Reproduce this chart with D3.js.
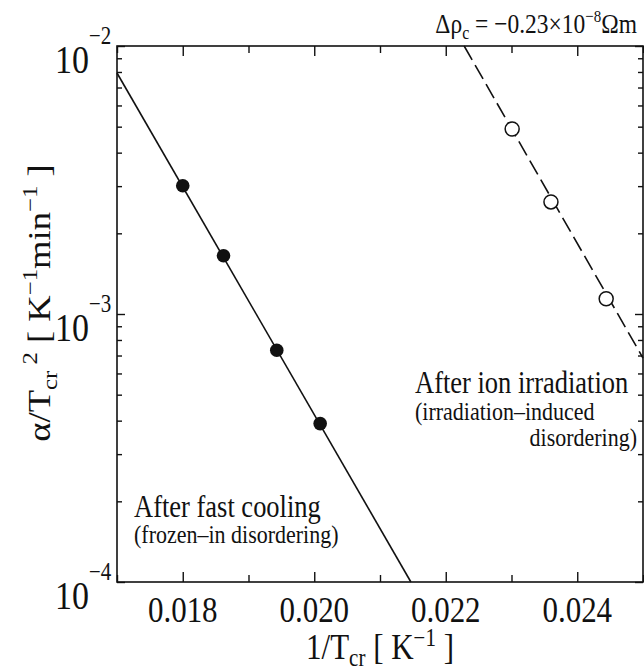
<!DOCTYPE html>
<html>
<head>
<meta charset="utf-8">
<script src="https://cdn.jsdelivr.net/npm/d3@7"></script>
<style>
body { margin: 0; background: #fff; }
text { font-family: "Liberation Serif", "Times New Roman", serif; fill: #111; }
</style>
</head>
<body>
<script>

// fast cooling (filled points) and its fit line
var coolX = [0.0180, 0.01862, 0.01943, 0.02009];
var coolY = [3.01e-3, 1.65e-3, 7.32e-4, 3.90e-4];
var coolLineX = [0.0170, 0.02147];
var coolLineY = [7.93e-3, 1.0e-4];

// ion irradiation (open points) and its fit line
var ionX = [0.02301, 0.02360, 0.02444];
var ionY = [4.90e-3, 2.62e-3, 1.14e-3];
var ionLineX = [0.02228, 0.0250];
var ionLineY = [1.0e-2, 6.85e-4];

var xMajor = [0.018, 0.020, 0.022, 0.024];
var xMinor = [0.017, 0.019, 0.021, 0.023, 0.025];
var yMajor = [1e-4, 1e-3, 1e-2];
var yExp = ["\u22124", "\u22123", "\u22122"];

var width = 644, height = 669;
var pLeft = 117, pRight = 643, pTop = 46, pBottom = 582;
var S = 1.18;  // the original glyphs are drawn tall and narrow

var svg = d3.select("body").append("svg")
	.attr("width", width)
	.attr("height", height);

var x = d3.scaleLinear().domain([0.017, 0.025]).range([pLeft, pRight]);
var y = d3.scaleLog().domain([1e-4, 1e-2]).range([pBottom, pTop]);

// minor log ticks 2..9 per decade
var yMinor = [];
[1e-4, 1e-3].forEach(function(d){
	for(var k = 2; k < 10; k++) yMinor.push(d * k);
});

var fmt = function(){ return ""; };

var drawX = function(axisFn, ty, vals, size){
	svg.append("g")
		.attr("transform", "translate(0," + ty + ")")
		.call(axisFn(x).tickValues(vals).tickSize(size).tickFormat(fmt))
		.call(function(g){ g.select(".domain").remove(); })
		.selectAll("line").attr("stroke", "#111").attr("stroke-width", 1.4);
};
drawX(d3.axisBottom, pBottom, xMajor, -10);
drawX(d3.axisBottom, pBottom, xMinor, -7);
drawX(d3.axisTop, pTop, xMajor, -10);
drawX(d3.axisTop, pTop, xMinor, -7);

var drawY = function(axisFn, tx, vals, size){
	svg.append("g")
		.attr("transform", "translate(" + tx + ",0)")
		.call(axisFn(y).tickValues(vals).tickSize(size).tickFormat(fmt))
		.call(function(g){ g.select(".domain").remove(); })
		.selectAll("line").attr("stroke", "#111").attr("stroke-width", 1.4);
};
drawY(d3.axisLeft, pLeft, yMajor, -8);
drawY(d3.axisLeft, pLeft, yMinor, -5);
drawY(d3.axisRight, pRight, yMajor, -8);
drawY(d3.axisRight, pRight, yMinor, -5);

// frame
svg.append("rect")
	.attr("x", pLeft).attr("y", pTop)
	.attr("width", pRight - pLeft).attr("height", pBottom - pTop)
	.attr("fill", "none").attr("stroke", "#111").attr("stroke-width", 1.6);

// text helper: baseline anchored, stretched vertically
var label = function(tx, ty, size, anchor){
	return svg.append("text")
		.attr("transform", "translate(" + tx + "," + ty + ") scale(1," + S + ")")
		.attr("font-size", size)
		.attr("text-anchor", anchor || "start");
};

// x tick labels
xMajor.forEach(function(d){
	label(x(d), pBottom + 40, 31, "middle").text(d.toFixed(3));
});

// y tick labels 10^n
yMajor.forEach(function(d, i){
	label(89, y(d) + 27, 34, "end").text("10");
	label(89, y(d) - 2, 21).text(yExp[i]);
});

// fit lines
var line = d3.line()
	.x(function(d){ return x(d[0]); })
	.y(function(d){ return y(d[1]); });

svg.append("path")
	.datum(d3.zip(coolLineX, coolLineY))
	.attr("d", line)
	.attr("fill", "none").attr("stroke", "#111").attr("stroke-width", 1.6);

svg.append("path")
	.datum(d3.zip(ionLineX, ionLineY))
	.attr("d", line)
	.attr("fill", "none").attr("stroke", "#111").attr("stroke-width", 1.6)
	.attr("stroke-dasharray", "16,6");

svg.selectAll(".cool").data(d3.zip(coolX, coolY)).enter().append("circle")
	.attr("cx", function(d){ return x(d[0]); })
	.attr("cy", function(d){ return y(d[1]); })
	.attr("r", 6.8)
	.attr("fill", "#111");

svg.selectAll(".ion").data(d3.zip(ionX, ionY)).enter().append("circle")
	.attr("cx", function(d){ return x(d[0]); })
	.attr("cy", function(d){ return y(d[1]); })
	.attr("r", 7)
	.attr("fill", "#fff").attr("stroke", "#111").attr("stroke-width", 1.5);

// annotations
label(134, 517, 26.5).text("After fast cooling");
label(134, 543, 22).text("(frozen\u2013in disordering)");
label(415, 393, 26.5).text("After ion irradiation");
label(415, 420, 22).text("(irradiation\u2013induced");
label(637, 446, 22, "end").text("disordering)");

// top right label
var t = label(637, 33, 23.5, "end");
t.append("tspan").text("\u0394\u03c1");
t.append("tspan").attr("font-size", 16).attr("dy", 5).text("c");
t.append("tspan").attr("dy", -5).text(" = \u22120.23\u00d710");
t.append("tspan").attr("font-size", 15).attr("dy", -9).text("\u22128");
t.append("tspan").attr("dy", 9).text("\u03a9m");

// x axis title
var xt = label(380, 659, 31, "middle");
xt.append("tspan").text("1/T");
xt.append("tspan").attr("font-size", 21).attr("dy", 6).text("cr");
xt.append("tspan").attr("dy", -6).text(" [ K");
xt.append("tspan").attr("font-size", 21).attr("dy", -11).text("\u22121");
xt.append("tspan").attr("dy", 11).text(" ]");

// y axis title
var yt = svg.append("text")
	.attr("transform", "translate(50,303) rotate(-90) scale(" + S + ",1)")
	.attr("text-anchor", "middle")
	.attr("font-size", 31);
yt.append("tspan").text("\u03b1/T");
yt.append("tspan").attr("font-size", 21).attr("dy", 7).text("cr");
yt.append("tspan").attr("font-size", 21).attr("dy", -20).text(" 2");
yt.append("tspan").attr("dy", 13).text(" [ K");
yt.append("tspan").attr("font-size", 21).attr("dy", -13).text("\u22121");
yt.append("tspan").attr("dy", 13).text("min");
yt.append("tspan").attr("font-size", 21).attr("dy", -13).text("\u22121");
yt.append("tspan").attr("dy", 13).text(" ]");

</script>
</body>
</html>
